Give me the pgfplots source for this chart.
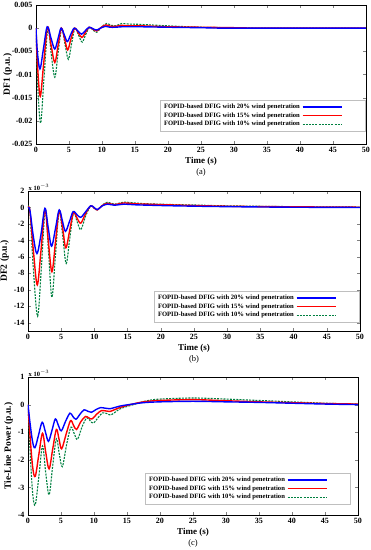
\documentclass[border=0pt]{standalone}
\usepackage{fontspec}
\setmainfont{Liberation Serif}
\usepackage{pgfplots}
\pgfplotsset{compat=1.18}
\definecolor{mblue}{RGB}{0,0,255}
\definecolor{mred}{RGB}{255,0,0}
\definecolor{mgreen}{RGB}{0,128,64}
\pgfplotsset{
  mystyle/.style={
    scale only axis,
    anchor=south west,
    xmin=0, xmax=50,
    xtick={0,5,...,50},
    tick align=inside,
    major tick length=3pt,
    axis line style={line width=0.6pt},
    /pgf/number format/assume math mode=true,
    tick label style={font=\bfseries\fontsize{8}{9}\selectfont},
    xlabel={\bfseries Time (s)},
    xlabel style={font=\fontsize{9}{10}\selectfont, yshift=3pt},
    ylabel style={font=\fontsize{9.5}{10}\selectfont, yshift=-2pt},
    legend plot pos=right,
    reverse legend,
    legend cell align=left,
    legend image code/.code={\draw[##1] (0pt,0pt) -- (39pt,0pt); \path (60pt,0pt);},
    legend style={font=\bfseries\fontsize{6.6}{7}\selectfont, draw=gray!50, fill=white,
      inner sep=1.5pt, row sep=-1.5pt, /tikz/every even column/.append style={column sep=0pt}},
    every axis plot/.append style={smooth, tension=0.55},
  },
  sblue/.style={color=mblue, line width=1.4pt},
  sred/.style={color=mred, line width=1.4pt},
  sgreen/.style={color=mgreen, line width=1.1pt, dash pattern=on 2pt off 1.2pt},
}
\begin{document}
\begin{tikzpicture}
\useasboundingbox (0,0) rectangle (371pt,550pt);
% ---------------- (a) ----------------
\begin{axis}[mystyle,
  at={(36pt,406pt)}, width=330pt, height=139pt,
  ymin=-0.025, ymax=0.005, ytick={-0.025,-0.02,...,0.005},
  scaled y ticks=false,
  yticklabel style={/pgf/number format/fixed, /pgf/number format/precision=3},
  ylabel={\bfseries DF1 (p.u.)},
  ylabel style={yshift=-5pt},
  legend style={at={(0.997,0.094)}, anchor=south east},
  after end axis/.code={\node[font=\fontsize{8.5}{9}\selectfont] at (rel axis cs:0.5,0) [yshift=-28pt] {(a)};},
]
\addplot[sgreen] coordinates {(0,0) (0.25,-0.012) (0.7,-0.0205) (1.2,-0.011) (1.8,0) (2.3,-0.0055) (2.85,-0.0106) (3.35,-0.0053) (3.9,-0.0001) (4.4,-0.0035) (4.9,-0.0067) (5.4,-0.0033) (5.9,0) (6.45,-0.0015) (7.0,-0.003) (7.55,-0.0013) (8.1,0.0001) (8.65,-0.0004) (9.2,-0.0009) (9.9,0.0002) (10.7,0.001) (11.4,0.0006) (12.1,0.0005) (13,0.001) (14,0.0009) (16,0.0008) (20,0.0005) (25,0.0002) (30,0.0001) (35,0) (50,0)};
\addlegendentry{FOPID-based DFIG with 10\% wind penetration}
\addplot[sred] coordinates {(0,0) (0.25,-0.0085) (0.65,-0.0147) (1.15,-0.0078) (1.75,0.0002) (2.3,-0.0038) (2.85,-0.0074) (3.35,-0.0037) (3.85,0) (4.35,-0.0024) (4.8,-0.0047) (5.3,-0.0023) (5.85,0) (6.4,-0.001) (6.95,-0.002) (7.5,-0.0009) (8.05,0.0002) (8.6,-0.0002) (9.2,-0.0006) (9.9,0.0002) (10.6,0.0007) (11.3,0.0004) (12.1,0.0004) (13,0.0006) (14,0.0005) (16,0.0005) (20,0.0003) (25,0.0002) (30,0.0001) (35,0) (50,0)};
\addlegendentry{FOPID-based DFIG with 15\% wind penetration}
\addplot[sblue] coordinates {(0,0) (0.2,-0.005) (0.6,-0.0088) (1.1,-0.0047) (1.7,0.0003) (2.3,-0.0023) (2.85,-0.0045) (3.35,-0.0022) (3.8,0) (4.3,-0.0015) (4.75,-0.0029) (5.25,-0.0014) (5.78,0) (6.35,-0.0006) (6.9,-0.0013) (7.5,-0.0005) (8.05,0.0002) (8.6,-0.0001) (9.2,-0.0004) (9.9,0.0001) (10.5,0.0004) (11.2,0.0002) (12,0.0002) (13,0.0003) (14,0.0003) (16,0.0003) (20,0.0002) (25,0.0001) (30,0) (50,0)};
\addlegendentry{FOPID-based DFIG with 20\% wind penetration}
\end{axis}
% ---------------- (b) ----------------
\begin{axis}[mystyle,
  at={(28pt,219pt)}, width=332pt, height=140pt,
  ymin=-15, ymax=2, ytick={-14,-12,...,2},
  ylabel={\bfseries DF2 (p.u.)},
  legend style={at={(0.997,0.064)}, anchor=south east},
  after end axis/.code={\node[font=\fontsize{8.5}{9}\selectfont] at (rel axis cs:0.5,0) [yshift=-28pt] {(b)};
    \node[font=\bfseries\fontsize{6.5}{7}\selectfont, anchor=south west, inner sep=0.5pt] at (rel axis cs:0,1) {x 10$^{-3}$};},
]
\addplot[sgreen] coordinates {(0,0) (0.3,-0.6) (0.85,-8.0) (1.45,-13.2) (2.0,-7.5) (2.6,-0.3) (3.1,-5.5) (3.6,-10.9) (4.15,-5.6) (4.7,-0.5) (5.25,-3.6) (5.75,-6.8) (6.3,-3.7) (6.85,-0.7) (7.4,-1.7) (7.95,-2.7) (8.7,-1.0) (9.45,0.2) (9.95,-0.1) (10.5,-0.3) (11.2,0.3) (12,0.65) (13,0.4) (14.5,0.65) (16,0.55) (18,0.45) (22,0.35) (25,0.3) (30,0.2) (40,0.1) (50,0.05)};
\addlegendentry{FOPID-based DFIG with 10\% wind penetration}
\addplot[sred] coordinates {(0,0) (0.3,-0.5) (0.85,-5.6) (1.4,-9.4) (1.95,-5.3) (2.55,-0.2) (3.05,-4.0) (3.6,-7.8) (4.15,-4.1) (4.7,-0.4) (5.25,-2.7) (5.7,-4.9) (6.3,-2.7) (6.85,-0.6) (7.4,-1.3) (7.95,-1.9) (8.7,-0.7) (9.45,0.2) (9.95,-0.05) (10.45,-0.3) (11.2,0.25) (12,0.5) (13,0.35) (14.5,0.55) (16,0.45) (18,0.4) (22,0.3) (30,0.15) (40,0.08) (50,0.03)};
\addlegendentry{FOPID-based DFIG with 15\% wind penetration}
\addplot[sblue] coordinates {(0,0) (0.3,-0.4) (0.8,-3.5) (1.35,-5.6) (1.95,-3.3) (2.55,-0.1) (3.05,-2.5) (3.55,-4.7) (4.15,-2.5) (4.7,-0.3) (5.2,-1.7) (5.65,-2.9) (6.25,-1.7) (6.8,-0.5) (7.4,-0.9) (7.95,-1.2) (8.7,-0.5) (9.45,0.2) (9.95,0) (10.45,-0.25) (11.2,0.2) (12,0.4) (13,0.28) (14.5,0.4) (16,0.33) (18,0.28) (22,0.2) (30,0.1) (40,0.03) (50,0)};
\addlegendentry{FOPID-based DFIG with 20\% wind penetration}
\end{axis}
% ---------------- (c) ----------------
\begin{axis}[mystyle,
  at={(28pt,35pt)}, width=330pt, height=138pt,
  ymin=-4, ymax=1, ytick={-4,-3,...,1},
  ylabel={\bfseries Tie-Line Power (p.u.)},
  legend style={at={(0.976,0.08)}, anchor=south east},
  after end axis/.code={\node[font=\fontsize{8.5}{9}\selectfont] at (rel axis cs:0.5,0) [yshift=-28pt] {(c)};
    \node[font=\bfseries\fontsize{6.5}{7}\selectfont, anchor=south west, inner sep=0.5pt] at (rel axis cs:0,1) {x 10$^{-3}$};},
]
\addplot[sgreen] coordinates {(0,0) (0.3,-1.6) (0.7,-3.2) (1.1,-3.63) (1.65,-2.6) (2.2,-1.5) (2.7,-2.5) (3.2,-3.27) (3.75,-2.2) (4.3,-1.24) (4.75,-1.8) (5.2,-2.25) (5.85,-1.45) (6.5,-0.82) (7.0,-1.05) (7.5,-1.26) (8.2,-0.8) (8.9,-0.48) (9.4,-0.58) (9.9,-0.67) (10.7,-0.45) (11.3,-0.3) (12,-0.33) (12.6,-0.37) (14,-0.15) (16,0) (18,0.14) (20,0.2) (25,0.24) (30,0.2) (35,0.15) (40,0.1) (45,0.05) (50,0.02)};
\addlegendentry{FOPID-based DFIG with 10\% wind penetration}
\addplot[sred] coordinates {(0,0) (0.3,-1.1) (0.7,-2.25) (1.1,-2.6) (1.65,-1.8) (2.2,-1.04) (2.7,-1.75) (3.2,-2.33) (3.75,-1.6) (4.3,-0.9) (4.7,-1.25) (5.1,-1.6) (5.8,-1.05) (6.45,-0.58) (6.9,-0.75) (7.35,-0.9) (8.0,-0.62) (8.7,-0.43) (9.2,-0.48) (9.7,-0.52) (10.4,-0.35) (11.1,-0.22) (11.8,-0.23) (12.4,-0.25) (14,-0.1) (15.5,0) (17.5,0.1) (20,0.15) (25,0.18) (30,0.14) (35,0.1) (40,0.07) (45,0.04) (50,0.02)};
\addlegendentry{FOPID-based DFIG with 15\% wind penetration}
\addplot[sblue] coordinates {(0,0) (0.3,-0.65) (0.7,-1.35) (1.06,-1.56) (1.6,-1.1) (2.15,-0.64) (2.65,-1.0) (3.1,-1.33) (3.65,-0.92) (4.15,-0.52) (4.6,-0.75) (5.05,-0.95) (5.7,-0.6) (6.36,-0.31) (6.8,-0.43) (7.27,-0.53) (7.9,-0.34) (8.5,-0.19) (9.05,-0.24) (9.6,-0.28) (10.3,-0.18) (11,-0.11) (11.7,-0.13) (12.4,-0.15) (14,-0.05) (15.3,0) (17.5,0.07) (20,0.1) (25,0.12) (30,0.1) (35,0.08) (40,0.05) (45,0.02) (50,0)};
\addlegendentry{FOPID-based DFIG with 20\% wind penetration}
\end{axis}
\end{tikzpicture}
\end{document}
